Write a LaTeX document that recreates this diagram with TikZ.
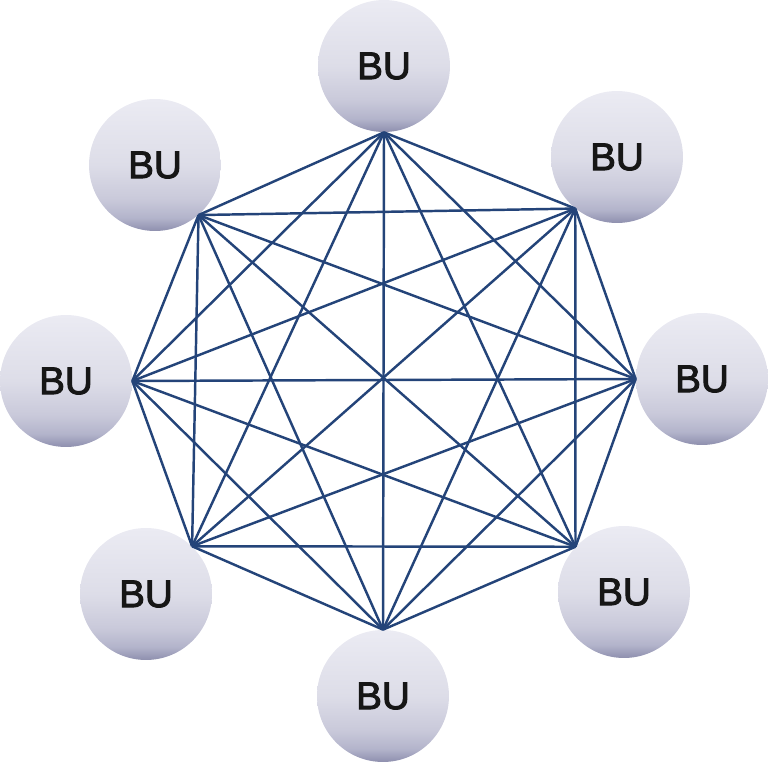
\documentclass[tikz,border=0pt]{standalone}
\usepackage{fontspec}
\setsansfont{Liberation Sans}
\newfontfamily\bufont{Liberation Sans}[FakeBold=2.6]
\definecolor{buTop}{HTML}{EBEBF3}
\definecolor{buMid}{HTML}{DDDDE8}
\definecolor{buLow}{HTML}{C9C9DA}
\definecolor{buDeep}{HTML}{B3B4CB}
\definecolor{buBot}{HTML}{8E8FAE}
\definecolor{buText}{HTML}{161616}
\definecolor{link}{HTML}{244479}
\pgfdeclareverticalshading{bushade}{100bp}{color(0bp)=(buBot); color(25bp)=(buBot);
  color(30bp)=(buDeep); color(37bp)=(buLow); color(50bp)=(buMid);
  color(75bp)=(buTop); color(100bp)=(buTop)}

\begin{document}
\begin{tikzpicture}[x=0.02cm,y=-0.02cm,
  bu/.style={circle,minimum size=2.64cm,inner sep=0pt,shading=bushade,
    text=buText,font=\bufont\fontsize{22}{22}\selectfont},
  wire/.style={link,line width=1.4pt}]
  \useasboundingbox (0,0) rectangle (768,763);

  \node[bu] (n)  at (384,66)  {BU};
  \node[bu] (ne) at (617,157) {BU};
  \node[bu] (e)  at (702,379) {BU};
  \node[bu] (se) at (624,592) {BU};
  \node[bu] (s)  at (383,696) {BU};
  \node[bu] (sw) at (146,594) {BU};
  \node[bu] (w)  at (66,381)  {BU};
  \node[bu] (nw) at (155,165) {BU};

  % corners of the octagon
  \coordinate (v1) at (n.-90);
  \coordinate (v2) at (ne.-129);
  \coordinate (v3) at (e.180);
  \coordinate (v4) at (se.137);
  \coordinate (v5) at (s.90);
  \coordinate (v6) at (sw.46);
  \coordinate (v7) at (w.0);
  \coordinate (v8) at (nw.-49);

  \foreach \i in {1,...,7}{
    \pgfmathtruncatemacro{\nxt}{\i+1}
    \foreach \j in {\nxt,...,8}
      \draw[wire] (v\i) -- (v\j);
  }
\end{tikzpicture}
\end{document}
